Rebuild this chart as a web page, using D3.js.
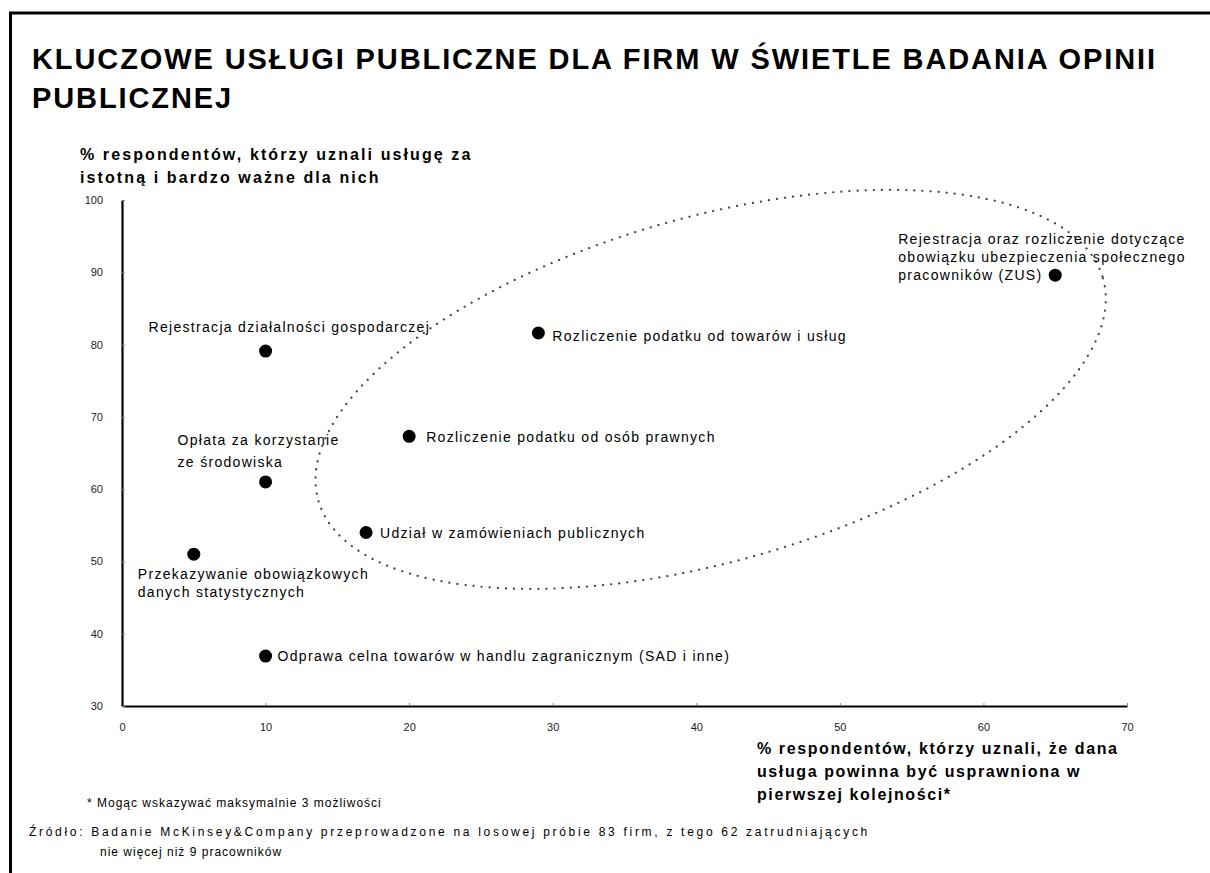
<!DOCTYPE html>
<html>
<head>
<meta charset="utf-8">
<script src="https://d3js.org/d3.v7.min.js"></script>
<style>
  body { margin:0; background:#fff; }
  svg text { font-family: "Liberation Sans", Arial, sans-serif; fill:#000; }
  .title { font-size:29px; font-weight:bold; letter-spacing:1.9px; }
  .axisTitle { font-size:16px; font-weight:bold; }
  .ytitle { letter-spacing:2.1px; }
  .xtitle { letter-spacing:1.6px; }
  .axis text { font-family: "Liberation Sans", Arial, sans-serif; font-size:11px; fill:#222; }
  .axis path { stroke:#000; stroke-width:2.2; }
  .axis line { stroke:#888; }
  .label { font-size:14px; letter-spacing:1.3px; }
  .note { font-size:12px; letter-spacing:1px; }
  .source { letter-spacing:2.7px; }
  .focus { fill:none; stroke:#444; stroke-width:2.2; stroke-dasharray:0.1,8; stroke-linecap:round; }
</style>
</head>
<body>
<svg id="chart" width="1210" height="873"></svg>
<script>
// services and their two survey results
var services = [
  "Rejestracja działalności gospodarczej",
  "Rozliczenie podatku od towarów i usług",
  "Rejestracja oraz rozliczenie dotyczące obowiązku ubezpieczenia społecznego pracowników (ZUS)",
  "Rozliczenie podatku od osób prawnych",
  "Opłata za korzystanie ze środowiska",
  "Udział w zamówieniach publicznych",
  "Przekazywanie obowiązkowych danych statystycznych",
  "Odprawa celna towarów w handlu zagranicznym (SAD i inne)"
];
var labelLines = [
  ["Rejestracja działalności gospodarczej"],
  ["Rozliczenie podatku od towarów i usług"],
  ["Rejestracja oraz rozliczenie dotyczące", "obowiązku ubezpieczenia społecznego", "pracowników (ZUS)"],
  ["Rozliczenie podatku od osób prawnych"],
  ["Opłata za korzystanie", "ze środowiska"],
  ["Udział w zamówieniach publicznych"],
  ["Przekazywanie obowiązkowych", "danych statystycznych"],
  ["Odprawa celna towarów w handlu zagranicznym (SAD i inne)"]
];
var toImprove = [10, 29, 65, 20, 10, 17, 5, 10];          // x, %
var important = [79.1, 81.6, 89.6, 67.3, 61, 54, 51, 36.9]; // y, %

var xTicks = [0, 10, 20, 30, 40, 50, 60, 70];
var yTicks = [30, 40, 50, 60, 70, 80, 90, 100];

var titleLines = ["KLUCZOWE USŁUGI PUBLICZNE DLA FIRM W ŚWIETLE BADANIA OPINII", "PUBLICZNEJ"];
var yTitleLines = ["% respondentów, którzy uznali usługę za", "istotną i bardzo ważne dla nich"];
var xTitleLines = ["% respondentów, którzy uznali, że dana", "usługa powinna być usprawniona w", "pierwszej kolejności*"];
var footnote = "* Mogąc wskazywać maksymalnie 3 możliwości";
var sourceLines = ["Źródło: Badanie McKinsey&Company przeprowadzone na losowej próbie 83 firm, z tego 62 zatrudniających",
                   "nie więcej niż 9 pracowników"];

// dotted area around the key services (data units, rotation in degrees)
var focusArea = {cx: 41.0, cy: 73.8, rx: 28.4, ry: 12.0, angle: -15.8};

// label placement relative to each dot (px)
var labelPos = [
  {dx: -117, dy: -24, lh: 18},
  {dx: 14, dy: 3, lh: 18},
  {dx: -157, dy: -36, lh: 18},
  {dx: 17, dy: 1, lh: 18},
  {dx: -88, dy: -42, lh: 22},
  {dx: 14, dy: 1, lh: 18},
  {dx: -56, dy: 20, lh: 18},
  {dx: 12, dy: 0, lh: 18}
];

var svg = d3.select("#chart");

// frame
svg.append("line").attr("x1", 9).attr("x2", 1210).attr("y1", 13).attr("y2", 13)
   .attr("stroke", "#000").attr("stroke-width", 3);
svg.append("line").attr("x1", 10.5).attr("x2", 10.5).attr("y1", 12).attr("y2", 873)
   .attr("stroke", "#000").attr("stroke-width", 3);

// title
svg.selectAll(".title").data(titleLines).enter().append("text")
   .attr("class", "title")
   .attr("x", 32)
   .attr("y", function(d, i) { return 69 + i * 39; })
   .text(function(d) { return d; });

var x = d3.scaleLinear().domain([0, 70]).range([122, 1127]);
var y = d3.scaleLinear().domain([30, 100]).range([706, 200]);

// axes
svg.append("g").attr("class", "axis")
   .attr("transform", "translate(0," + y(30) + ")")
   .call(d3.axisBottom(x).tickValues(xTicks).tickSize(-3).tickSizeOuter(0).tickPadding(17));
svg.append("g").attr("class", "axis")
   .attr("transform", "translate(" + x(0) + ",0)")
   .call(d3.axisLeft(y).tickValues(yTicks).tickSize(-3).tickSizeOuter(0).tickPadding(19));

// axis titles
svg.selectAll(".ytitle").data(yTitleLines).enter().append("text")
   .attr("class", "axisTitle ytitle")
   .attr("x", 80)
   .attr("y", function(d, i) { return 160 + i * 23; })
   .text(function(d) { return d; });
svg.selectAll(".xtitle").data(xTitleLines).enter().append("text")
   .attr("class", "axisTitle xtitle")
   .attr("x", 757)
   .attr("y", function(d, i) { return 754 + i * 23; })
   .text(function(d) { return d; });

// dotted focus ellipse
svg.append("ellipse").attr("class", "focus")
   .attr("cx", x(focusArea.cx)).attr("cy", y(focusArea.cy))
   .attr("rx", x(focusArea.rx) - x(0)).attr("ry", x(focusArea.ry) - x(0))
   .attr("transform", "rotate(" + focusArea.angle + "," + x(focusArea.cx) + "," + y(focusArea.cy) + ")");

// points
var data = services.map(function(s, i) {
  return {name: s, x: toImprove[i], y: important[i], lines: labelLines[i], pos: labelPos[i]};
});

svg.selectAll(".dot").data(data).enter().append("circle")
   .attr("class", "dot")
   .attr("cx", function(d) { return x(d.x); })
   .attr("cy", function(d) { return y(d.y); })
   .attr("r", 6.5)
   .attr("fill", "#000");

var labels = svg.selectAll(".label").data(data).enter().append("text")
   .attr("class", "label")
   .attr("x", function(d) { return x(d.x) + d.pos.dx; })
   .attr("y", function(d) { return y(d.y) + d.pos.dy; });
labels.selectAll("tspan").data(function(d) {
    return d.lines.map(function(l, i) { return {t: l, i: i, d: d}; });
  }).enter().append("tspan")
   .attr("x", function(e) { return x(e.d.x) + e.d.pos.dx; })
   .attr("y", function(e) { return y(e.d.y) + e.d.pos.dy + e.i * e.d.pos.lh; })
   .attr("dy", "0.35em")
   .text(function(e) { return e.t; });

// notes
svg.append("text").attr("class", "note").attr("x", 87).attr("y", 807).text(footnote);
svg.append("text").attr("class", "note source").attr("x", 29).attr("y", 836).text(sourceLines[0]);
svg.append("text").attr("class", "note").attr("x", 100).attr("y", 856).text(sourceLines[1]);
</script>
</body>
</html>
